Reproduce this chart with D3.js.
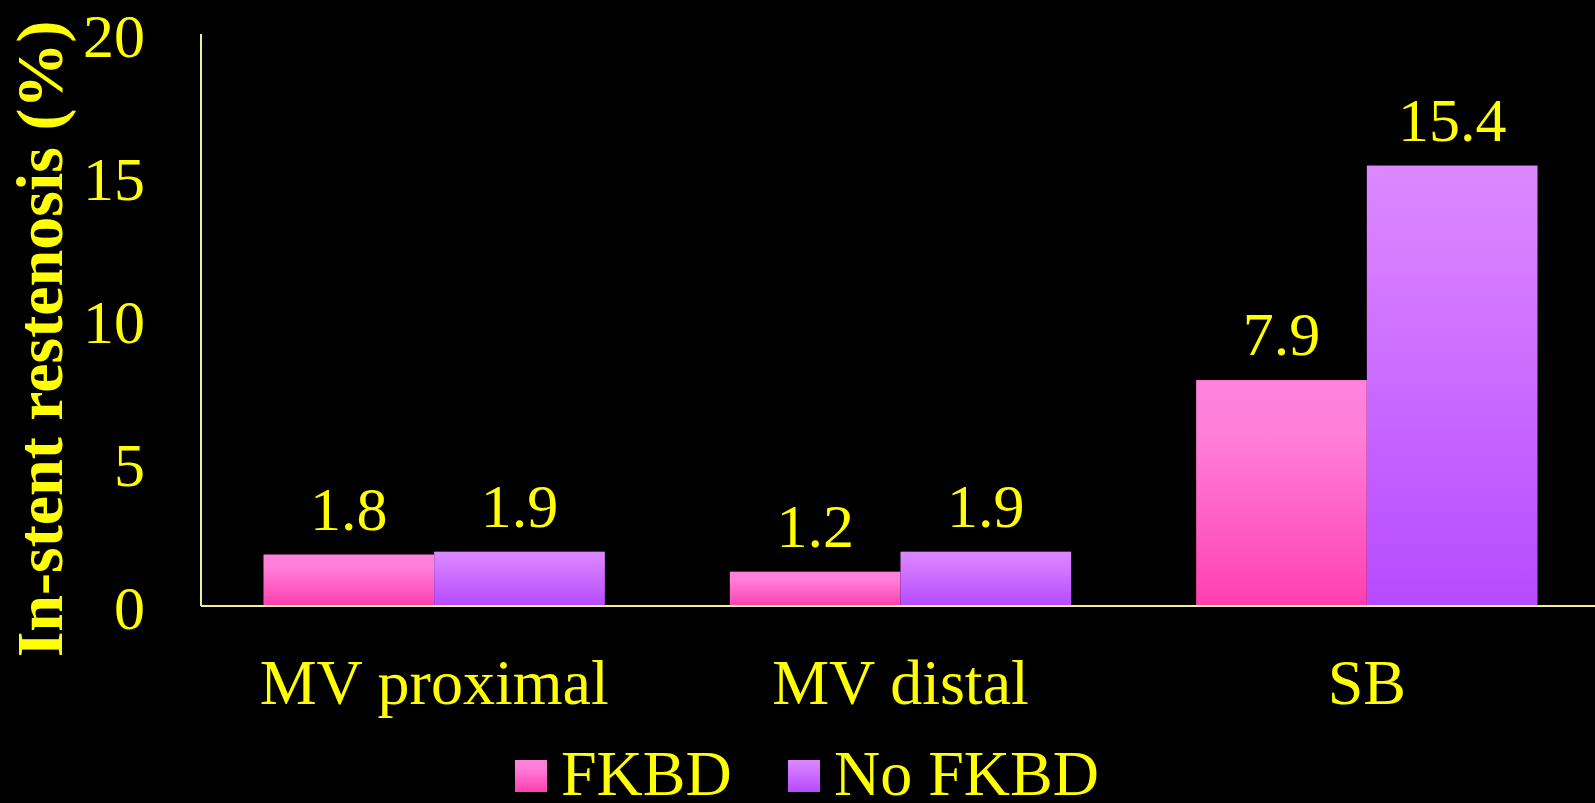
<!DOCTYPE html>
<html>
<head>
<meta charset="utf-8">
<script src="https://cdn.jsdelivr.net/npm/d3@7"></script>
<style>
    html, body { margin: 0; padding: 0; background: #000; }
    svg { display: block; }
    text { font-family: "Liberation Serif", "Times New Roman", serif; fill: #ffff00; }
</style>
</head>
<body>
<svg id="chart" width="1595" height="803"></svg>
<script>
// ---------------------------------------------------------------------------
// Data
// ---------------------------------------------------------------------------
const categories = ['MV proximal', 'MV distal', 'SB'];
const seriesNames = ['FKBD', 'No FKBD'];
const fkbdValues = [1.8, 1.2, 7.9];
const noFkbdValues = [1.9, 1.9, 15.4];
const yTicks = [0, 5, 10, 15, 20];

const series = [
    { name: seriesNames[0], values: fkbdValues, grad: 'grad-pink' },
    { name: seriesNames[1], values: noFkbdValues, grad: 'grad-purple' }
];

const W = 1595, H = 803;
const margin = { top: 34, bottom: 197, left: 201 };

const svg = d3.select('#chart');

// Gradients (per bar, top light -> bottom strong)
const defs = svg.append('defs');
function addGradient(id, stops) {
    const lg = defs.append('linearGradient')
        .attr('id', id)
        .attr('x1', 0).attr('y1', 0)
        .attr('x2', 0).attr('y2', 1);
    stops.forEach(s => lg.append('stop').attr('offset', s[0]).attr('stop-color', s[1]));
}
addGradient('grad-pink', [[0, '#ff82dc'], [0.25, '#ff7ed8'], [1, '#ff3fb0']]);
addGradient('grad-purple', [[0, '#dc88ff'], [0.2, '#d67dff'], [1, '#b64aff']]);

// Scales (category range runs a little past the right edge, like the original)
const x0 = d3.scaleBand()
    .domain(categories)
    .range([margin.left, 1600])
    .paddingInner(0.268)
    .paddingOuter(0.134);

const x1 = d3.scaleBand()
    .domain(seriesNames)
    .range([0, x0.bandwidth()]);

const y = d3.scaleLinear()
    .domain([0, 20])
    .range([H - margin.bottom, margin.top]);

// Bars
const groups = svg.append('g')
    .selectAll('g')
    .data(categories)
    .join('g')
    .attr('transform', d => `translate(${x0(d)},0)`);

groups.selectAll('rect')
    .data((d, i) => series.map(s => ({ name: s.name, value: s.values[i], grad: s.grad })))
    .join('rect')
    .attr('x', d => x1(d.name))
    .attr('y', d => y(d.value))
    .attr('width', x1.bandwidth())
    .attr('height', d => y(0) - y(d.value))
    .attr('fill', d => `url(#${d.grad})`);

// Value labels
groups.selectAll('text.val')
    .data((d, i) => series.map(s => ({ name: s.name, value: s.values[i] })))
    .join('text')
    .attr('class', 'val')
    .attr('x', d => x1(d.name) + x1.bandwidth() / 2)
    .attr('y', d => y(d.value) - 25)
    .attr('text-anchor', 'middle')
    .style('font-size', '62px')
    .text(d => d.value.toFixed(1));

// Axes lines
const axisColor = '#f3ee9a';
svg.append('line')
    .attr('x1', margin.left).attr('x2', margin.left)
    .attr('y1', y(20)).attr('y2', y(0))
    .attr('stroke', axisColor).attr('stroke-width', 2);
svg.append('line')
    .attr('x1', margin.left).attr('x2', W)
    .attr('y1', y(0)).attr('y2', y(0))
    .attr('stroke', axisColor).attr('stroke-width', 2);

// Y tick labels
svg.append('g')
    .selectAll('text')
    .data(yTicks)
    .join('text')
    .attr('x', 145)
    .attr('y', d => y(d))
    .attr('dy', '0.37em')
    .attr('text-anchor', 'end')
    .style('font-size', '62px')
    .text(d => d);

// Category labels
svg.append('g')
    .selectAll('text')
    .data(categories)
    .join('text')
    .attr('x', d => x0(d) + x0.bandwidth() / 2)
    .attr('y', 704)
    .attr('text-anchor', 'middle')
    .style('font-size', '64px')
    .text(d => d);

// Y axis title
svg.append('text')
    .attr('transform', 'translate(62,339) rotate(-90)')
    .attr('text-anchor', 'middle')
    .style('font-size', '66px')
    .style('font-weight', 'bold')
    .text('In-stent restenosis (%)');

// Legend
const legendItems = [
    { name: seriesNames[0], grad: 'grad-pink', x: 515, tx: 561 },
    { name: seriesNames[1], grad: 'grad-purple', x: 788, tx: 834 }
];
const legend = svg.append('g');
legend.selectAll('rect')
    .data(legendItems)
    .join('rect')
    .attr('x', d => d.x)
    .attr('y', 760)
    .attr('width', 32)
    .attr('height', 32)
    .attr('fill', d => `url(#${d.grad})`);
legend.selectAll('text')
    .data(legendItems)
    .join('text')
    .attr('x', d => d.tx)
    .attr('y', 795)
    .style('font-size', '64px')
    .text(d => d.name);
</script>
</body>
</html>
